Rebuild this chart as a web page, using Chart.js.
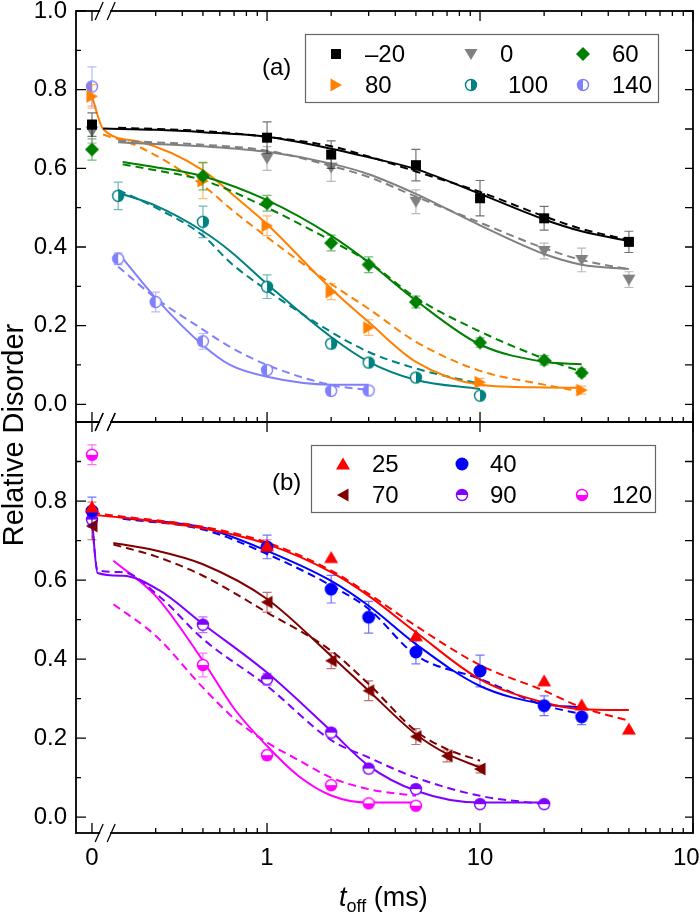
<!DOCTYPE html>
<html lang="en">
<head>
<meta charset="UTF-8">
<title>Relative Disorder vs t_off</title>
<script src="https://cdn.jsdelivr.net/npm/chart.js"></script>
<style>
  body { margin: 0; background: #fff; }
  #wrap { position: relative; width: 700px; height: 917px; }
  #wrap canvas { position: absolute; left: 0; top: 0; }
</style>
</head>
<body>
<div id="wrap">
  <canvas id="chartA" width="700" height="917"></canvas>
  <canvas id="chartB" width="700" height="917"></canvas>
</div>
<script>
// ---------- panel (a): measured points (t in ms, 0 = before the axis break) ----------
const tM20 = [0, 1, 2, 5, 10, 20, 50];
const dM20 = [0.711, 0.678, 0.635, 0.608, 0.524, 0.473, 0.413];
const eM20 = [0.03, 0.04, 0.035, 0.04, 0.045, 0.03, 0.027];

const t0 = [0, 1, 2, 5, 20, 30, 50];
const d0 = [0.694, 0.625, 0.602, 0.515, 0.39, 0.367, 0.317];
const e0 = [0.03, 0.03, 0.035, 0.03, 0.02, 0.03, 0.02];

const t60 = [0, 0.5, 1, 2, 3, 5, 10, 20, 30];
const d60 = [0.648, 0.58, 0.511, 0.41, 0.355, 0.26, 0.157, 0.112, 0.08];
const e60 = [0.027, 0.035, 0.02, 0.02, 0.02, 0.015, 0.012, 0.012, 0.01];

const t80 = [0, 0.5, 1, 2, 3, 10, 30];
const d80 = [0.783, 0.568, 0.454, 0.286, 0.195, 0.056, 0.036];
const e80 = [0.03, 0.045, 0.025, 0.02, 0.02, 0.01, 0.01];

const t100 = [0.2, 0.5, 1, 2, 3, 5, 10];
const d100 = [0.53, 0.464, 0.299, 0.154, 0.106, 0.068, 0.022];
const e100 = [0.035, 0.04, 0.03, 0.01, 0.01, 0.01, 0];

const t140 = [0, 0.2, 0.3, 0.5, 1, 2, 3];
const d140 = [0.808, 0.37, 0.26, 0.16, 0.087, 0.034, 0.035];
const e140 = [0.05, 0.015, 0.025, 0.02, 0.01, 0.01, 0.01];

// panel (a): fit curves (solid / dashed)
const fitTM20 = [0.17, 0.3, 0.5, 1, 2, 3, 5, 10, 20, 30, 50];
const fitTslow = [0.2, 0.3, 0.5, 1, 2, 3, 5, 10, 20, 30, 50];
const fitM20 = [0.701, 0.698, 0.692, 0.680, 0.650, 0.628, 0.598, 0.535, 0.470, 0.440, 0.415];
const dashM20 = [0.703, 0.700, 0.695, 0.680, 0.656, 0.630, 0.592, 0.540, 0.478, 0.446, 0.418];
const fit0 = [0.666, 0.662, 0.656, 0.642, 0.612, 0.585, 0.535, 0.455, 0.382, 0.355, 0.344];
const dash0 = [0.670, 0.666, 0.660, 0.645, 0.606, 0.578, 0.528, 0.462, 0.397, 0.367, 0.343];

const fitT60 = [0.21, 0.3, 0.5, 1, 2, 3, 5, 10, 20, 30];
const fit60 = [0.616, 0.603, 0.58, 0.519, 0.429, 0.361, 0.264, 0.152, 0.108, 0.102];
const dash60 = [0.61, 0.595, 0.57, 0.50, 0.416, 0.362, 0.271, 0.185, 0.116, 0.083];

const fitT80 = [0, 0.17, 0.25, 0.5, 0.7, 1, 2, 3, 5, 10, 20, 30];
const fit80 = [0.783, 0.70, 0.668, 0.595, 0.53, 0.458, 0.294, 0.209, 0.108, 0.05, 0.043, 0.042];
const dash80 = [null, 0.686, 0.655, 0.556, 0.49, 0.425, 0.306, 0.243, 0.159, 0.085, 0.05, 0.032];

const fitT100 = [0.2, 0.3, 0.5, 0.67, 1, 2, 3, 5, 10];
const fit100 = [0.538, 0.505, 0.44, 0.39, 0.306, 0.171, 0.108, 0.062, 0.039];
const dash100 = [0.545, 0.5, 0.429, 0.361, 0.29, 0.184, 0.133, 0.091, 0.052];

const fitT140 = [0.2, 0.3, 0.5, 0.67, 1, 2, 3];
const fit140 = [0.385, 0.27, 0.15, 0.1, 0.07, 0.05, 0.05];
const dash140 = [0.35, 0.27, 0.19, 0.146, 0.1, 0.049, 0.036];

// ---------- panel (b): measured points ----------
const t25 = [0, 1, 2, 5, 20, 30, 50];
const d25 = [0.785, 0.687, 0.657, 0.459, 0.345, 0.284, 0.223];
const e25 = [0.012, 0.015, 0, 0, 0, 0, 0];

const t40 = [0, 1, 2, 3, 5, 10, 20, 30];
const d40 = [0.775, 0.684, 0.577, 0.506, 0.418, 0.37, 0.282, 0.254];
const e40 = [0.035, 0.03, 0.035, 0.04, 0.03, 0.04, 0.025, 0.02];

const t70 = [0, 1, 2, 3, 5, 7, 10];
const d70 = [0.737, 0.544, 0.396, 0.32, 0.204, 0.155, 0.122];
const e70 = [0.035, 0.025, 0.02, 0.025, 0.02, 0.015, 0.01];

const t90 = [0, 0.5, 1, 2, 3, 5, 10, 20];
const d90 = [0.753, 0.487, 0.349, 0.214, 0.123, 0.071, 0.033, 0.033];
const e90 = [0.02, 0.02, 0.015, 0.01, 0.01, 0.01, 0.005, 0.005];

const t120 = [0, 0.5, 1, 2, 3, 5];
const d120 = [0.917, 0.385, 0.157, 0.081, 0.035, 0.029];
const e120 = [0.025, 0.03, 0.012, 0.01, 0.005, 0.005];

// panel (b): fit curves
const fitT25 = [0, 0.2, 0.5, 1, 2, 3, 5, 10, 20, 30, 50];
const fit25 = [0.765, 0.759, 0.731, 0.691, 0.62, 0.56, 0.468, 0.349, 0.29, 0.273, 0.271];
const dash25 = [0.77, 0.762, 0.735, 0.695, 0.624, 0.565, 0.484, 0.385, 0.32, 0.278, 0.244];

const fitT40 = [0.21, 0.5, 1, 2, 3, 5, 10, 20, 30];
const fit40 = [0.757, 0.733, 0.674, 0.598, 0.535, 0.438, 0.332, 0.286, 0.278];
const dash40 = [0.755, 0.728, 0.666, 0.586, 0.527, 0.41, 0.35, 0.283, 0.261];

const fitT70 = [0.19, 0.3, 0.5, 1, 2, 3, 5, 7, 10];
const fit70 = [0.694, 0.675, 0.64, 0.552, 0.408, 0.32, 0.21, 0.16, 0.126];
const dash70 = [0.69, 0.66, 0.611, 0.518, 0.421, 0.337, 0.218, 0.172, 0.143];

const fitT90 = [0, 0.16, 0.21, 0.31, 0.5, 1, 2, 3, 5, 10, 20];
const fit90 = [0.753, 0.618, 0.611, 0.575, 0.489, 0.366, 0.218, 0.13, 0.067, 0.037, 0.037];
const dash90 = [0.745, 0.625, 0.62, 0.56, 0.451, 0.332, 0.195, 0.151, 0.1, 0.054, 0.033];

const fitT120 = [0.19, 0.3, 0.5, 0.7, 1, 1.4, 2, 3, 5];
const fit120 = [0.649, 0.56, 0.396, 0.275, 0.18, 0.105, 0.055, 0.037, 0.037];
const dash120 = [0.539, 0.459, 0.328, 0.25, 0.189, 0.145, 0.1, 0.071, 0.054];

// ---------- axes ----------
const X_LABELS = ['0', '1', '10', '100'];
const Y_TICKS_A = [0, 0.2, 0.4, 0.6, 0.8, 1.0];
const Y_TICKS_B = [0, 0.2, 0.4, 0.6, 0.8];

const FONT = '"Liberation Sans", Arial, Helvetica, sans-serif';
const U0 = -0.822;               // x position (log10 units) used for the t = 0 points
const X_MIN = -0.897, X_MAX = 2; // log10(t) range of the axis
const X_MAJOR = [U0, 0, 1, 2];
const X_MINOR = [];
[0.1, 1, 10].forEach(dec => { for (let k = 2; k <= 9; k++) if (dec * k > 0.25) X_MINOR.push(Math.log10(dec * k)); });

const ux = t => t === 0 ? U0 : Math.log10(t);
const pts = (ts, vs) => ts.map((t, i) => vs[i] == null ? null : { x: ux(t), y: vs[i] }).filter(Boolean);

function fade(hex, a) {
  const n = parseInt(hex.slice(1), 16);
  return `rgba(${n >> 16},${(n >> 8) & 255},${n & 255},${a})`;
}

// marker images, so points and legend use the same symbol
function marker(kind, color) {
  const c = document.createElement('canvas');
  c.width = c.height = 18;
  const g = c.getContext('2d');
  g.fillStyle = color; g.strokeStyle = color; g.lineWidth = 1.4;
  const poly = p => {
    g.beginPath(); g.moveTo(p[0], p[1]);
    for (let i = 2; i < p.length; i += 2) g.lineTo(p[i], p[i + 1]);
    g.closePath(); g.fill();
  };
  switch (kind) {
    case 'square': g.fillRect(4, 4, 10, 10); break;
    case 'down': poly([2.5, 4, 15.5, 4, 9, 15]); break;
    case 'up': poly([2, 14.5, 16, 14.5, 9, 2.5]); break;
    case 'right': poly([3.5, 2.5, 15, 9, 3.5, 15.5]); break;
    case 'left': poly([14.5, 2.5, 3, 9, 14.5, 15.5]); break;
    case 'diamond': poly([9, 2, 16, 9, 9, 16, 2, 9]); break;
    case 'circle': g.beginPath(); g.arc(9, 9, 6.5, 0, 2 * Math.PI); g.fill(); break;
    default: { // half filled circles
      const r = 5.5;
      const start = { hr: -Math.PI / 2, hl: Math.PI / 2, ht: Math.PI, hb: 0 }[kind];
      g.fillStyle = '#fff'; g.beginPath(); g.arc(9, 9, r, 0, 2 * Math.PI); g.fill();
      g.fillStyle = color; g.beginPath(); g.arc(9, 9, r, start, start + Math.PI); g.closePath(); g.fill();
      g.beginPath(); g.arc(9, 9, r, 0, 2 * Math.PI); g.stroke();
    }
  }
  return c;
}

const seriesA = [
  { label: '\u201320', color: '#000000', shape: 'square', t: tM20, d: dM20, e: eM20, ft: fitTM20, fs: fitM20, fdt: fitTslow, fd: dashM20 },
  { label: '0', color: '#808080', shape: 'down', t: t0, d: d0, e: e0, ft: fitTslow, fs: fit0, fd: dash0 },
  { label: '60', color: '#008000', shape: 'diamond', t: t60, d: d60, e: e60, ft: fitT60, fs: fit60, fd: dash60 },
  { label: '80', color: '#ff8000', shape: 'right', t: t80, d: d80, e: e80, ft: fitT80, fs: fit80, fd: dash80 },
  { label: '100', color: '#008080', shape: 'hr', t: t100, d: d100, e: e100, ft: fitT100, fs: fit100, fd: dash100 },
  { label: '140', color: '#8080ff', shape: 'hl', t: t140, d: d140, e: e140, ft: fitT140, fs: fit140, fd: dash140 }
];
const seriesB = [
  { label: '25', color: '#ff0000', shape: 'up', t: t25, d: d25, e: e25, ft: fitT25, fs: fit25, fd: dash25 },
  { label: '40', color: '#0000ff', shape: 'circle', t: t40, d: d40, e: e40, ft: fitT40, fs: fit40, fd: dash40 },
  { label: '70', color: '#800000', shape: 'left', t: t70, d: d70, e: e70, ft: fitT70, fs: fit70, fd: dash70 },
  { label: '90', color: '#8000ff', shape: 'ht', t: t90, d: d90, e: e90, ft: fitT90, fs: fit90, fd: dash90 },
  { label: '120', color: '#ff00ff', shape: 'hb', t: t120, d: d120, e: e120, ft: fitT120, fs: fit120, fd: dash120 }
];
[...seriesA, ...seriesB].forEach(s => { s.img = marker(s.shape, s.color); });

// ---------- plugins ----------
const errorBars = {
  id: 'errorBars',
  beforeDatasetDraw(chart, args) {
    const ds = chart.data.datasets[args.index];
    if (!ds.err) return;
    const { ctx } = chart, ys = args.meta.yScale;
    ctx.save();
    ctx.strokeStyle = ds.errColor; ctx.lineWidth = 1.2;
    ctx.beginPath();
    args.meta.data.forEach((el, i) => {
      const e = ds.err[i];
      if (!e) return;
      const v = ds.data[i].y;
      const y1 = ys.getPixelForValue(v + e), y2 = ys.getPixelForValue(v - e);
      ctx.moveTo(el.x, y1); ctx.lineTo(el.x, y2);
      ctx.moveTo(el.x - 4.5, y1); ctx.lineTo(el.x + 4.5, y1);
      ctx.moveTo(el.x - 4.5, y2); ctx.lineTo(el.x + 4.5, y2);
    });
    ctx.stroke();
    ctx.restore();
  }
};

function framePlugin(topMinor) {
  return {
    id: 'frame',
    afterDraw(chart) {
      const { ctx, chartArea: a, scales } = chart;
      const xs = scales.x, ys = scales.y;
      ctx.save();
      ctx.strokeStyle = '#000';
      ctx.lineWidth = 1.3;
      ctx.beginPath();
      X_MAJOR.forEach(u => {
        const p = xs.getPixelForValue(u);
        ctx.moveTo(p, a.top); ctx.lineTo(p, a.top + 10);
        ctx.moveTo(p, a.bottom); ctx.lineTo(p, a.bottom - 10);
      });
      X_MINOR.forEach(u => {
        const p = xs.getPixelForValue(u);
        if (topMinor) { ctx.moveTo(p, a.top); ctx.lineTo(p, a.top + 5); }
        ctx.moveTo(p, a.bottom); ctx.lineTo(p, a.bottom - 5);
      });
      for (let k = 0; k <= 10; k++) {
        const y = ys.getPixelForValue(k / 10);
        const len = k % 2 === 0 ? 10 : 5;
        ctx.moveTo(a.left, y); ctx.lineTo(a.left + len, y);
        ctx.moveTo(a.right, y); ctx.lineTo(a.right - 8, y);
      }
      ctx.stroke();
      ctx.lineWidth = 1.8;
      ctx.strokeRect(a.left, a.top, a.right - a.left, a.bottom - a.top);
      // axis breaks
      const bx = xs.getPixelForValue(-0.76);
      [a.top, a.bottom].forEach(y => {
        ctx.fillStyle = '#fff';
        ctx.fillRect(bx - 5, y - 2, 10, 4);
        ctx.lineWidth = 1.3;
        ctx.beginPath();
        [-6, 6].forEach(dx => { ctx.moveTo(bx + dx - 4, y + 9); ctx.lineTo(bx + dx + 4, y - 9); });
        ctx.stroke();
      });
      ctx.restore();
    }
  };
}

function legendPlugin(series, box, items, tag, tagPos) {
  return {
    id: 'legendBox',
    afterDraw(chart) {
      const ctx = chart.ctx;
      ctx.save();
      ctx.fillStyle = '#fff';
      ctx.fillRect(box[0], box[1], box[2] - box[0], box[3] - box[1]);
      ctx.strokeStyle = '#666'; ctx.lineWidth = 1.2;
      ctx.strokeRect(box[0] + 0.5, box[1] + 0.5, box[2] - box[0], box[3] - box[1]);
      ctx.font = `24px ${FONT}`; ctx.fillStyle = '#000'; ctx.textBaseline = 'middle'; ctx.textAlign = 'left';
      items.forEach(([k, mx, my, lx]) => {
        const img = series[k].img;
        ctx.drawImage(img, mx - img.width / 2, my - img.height / 2);
        ctx.fillText(series[k].label, lx, my + 1);
      });
      ctx.fillText(tag, tagPos[0], tagPos[1]);
      ctx.restore();
    }
  };
}

const titles = {
  id: 'titles',
  afterDraw(chart) {
    const ctx = chart.ctx;
    ctx.save();
    ctx.fillStyle = '#000';
    ctx.textBaseline = 'middle'; ctx.textAlign = 'center';
    ctx.font = `29px ${FONT}`;
    ctx.translate(15, 435); ctx.rotate(-Math.PI / 2);
    ctx.fillText('Relative Disorder', 0, 0);
    ctx.restore();

    ctx.save();
    ctx.fillStyle = '#000'; ctx.textBaseline = 'alphabetic'; ctx.textAlign = 'left';
    let x = 339;
    const base = 906;
    ctx.font = `italic 27px ${FONT}`; ctx.fillText('t', x, base); x += ctx.measureText('t').width;
    ctx.font = `18px ${FONT}`; ctx.fillText('off', x, base + 6); x += ctx.measureText('off').width;
    ctx.font = `27px ${FONT}`; ctx.fillText(' (ms)', x, base);
    ctx.restore();
  }
};

// ---------- charts ----------
function makeChart(id, series, opt) {
  const datasets = [];
  series.forEach(s => {
    datasets.push({ type: 'line', data: pts(s.ft, s.fs), borderColor: s.color, borderWidth: 2,
      pointRadius: 0, cubicInterpolationMode: 'monotone', fill: false, order: 2 });
    datasets.push({ type: 'line', data: pts(s.fdt || s.ft, s.fd), borderColor: s.color, borderWidth: 2, borderDash: [8, 5],
      pointRadius: 0, cubicInterpolationMode: 'monotone', fill: false, order: 2 });
    datasets.push({ type: 'scatter', data: pts(s.t, s.d), err: s.e, errColor: fade(s.color, 0.55),
      pointStyle: s.img, pointRadius: 6, showLine: false, order: 1 });
  });
  return new Chart(document.getElementById(id), {
    type: 'scatter',
    data: { datasets },
    plugins: opt.plugins,
    options: {
      responsive: false,
      animation: false,
      events: [],
      layout: { padding: opt.padding },
      plugins: { legend: { display: false }, tooltip: { enabled: false } },
      scales: {
        x: {
          type: 'linear', min: X_MIN, max: X_MAX, display: opt.xLabels,
          grid: { display: false, drawTicks: false }, border: { display: false },
          afterBuildTicks: sc => { sc.ticks = X_MAJOR.map(v => ({ value: v })); },
          afterFit: sc => { sc.height = opt.xLabels ? 84 : 0; sc.paddingLeft = 0; sc.paddingRight = 0; },
          ticks: { autoSkip: false, maxRotation: 0, padding: 11, color: '#000',
            font: { family: FONT, size: 24 }, callback: (v, i) => X_LABELS[i] }
        },
        y: {
          type: 'linear', min: opt.yMin, max: 1.0,
          grid: { display: false, drawTicks: false }, border: { display: false },
          afterBuildTicks: sc => { sc.ticks = opt.yTicks.map(v => ({ value: v })); },
          afterFit: sc => { sc.width = 76; sc.paddingTop = 0; sc.paddingBottom = 0; },
          ticks: { padding: 9, color: '#000', font: { family: FONT, size: 24 }, callback: v => v.toFixed(1) }
        }
      }
    }
  });
}

makeChart('chartA', seriesA, {
  padding: { left: 0, top: 11, right: 7, bottom: 495 },
  xLabels: false, yMin: -0.045, yTicks: Y_TICKS_A,
  plugins: [errorBars, framePlugin(true),
    legendPlugin(seriesA, [305, 34, 658, 102],
      [[0, 336, 54, 365], [1, 471, 54, 500], [2, 583, 54, 612], [3, 336, 85, 365], [4, 471, 85, 508], [5, 583, 85, 612]],
      '(a)', [262, 68])]
});

makeChart('chartB', seriesB, {
  padding: { left: 0, top: 422, right: 7, bottom: 0 },
  xLabels: true, yMin: -0.04, yTicks: Y_TICKS_B,
  plugins: [errorBars, framePlugin(false), titles,
    legendPlugin(seriesB, [311, 445, 655, 512],
      [[0, 343, 464, 372], [1, 462, 464, 490], [2, 343, 495, 372], [3, 462, 495, 490], [4, 582, 495, 612]],
      '(b)', [272, 483])]
});
</script>
</body>
</html>
